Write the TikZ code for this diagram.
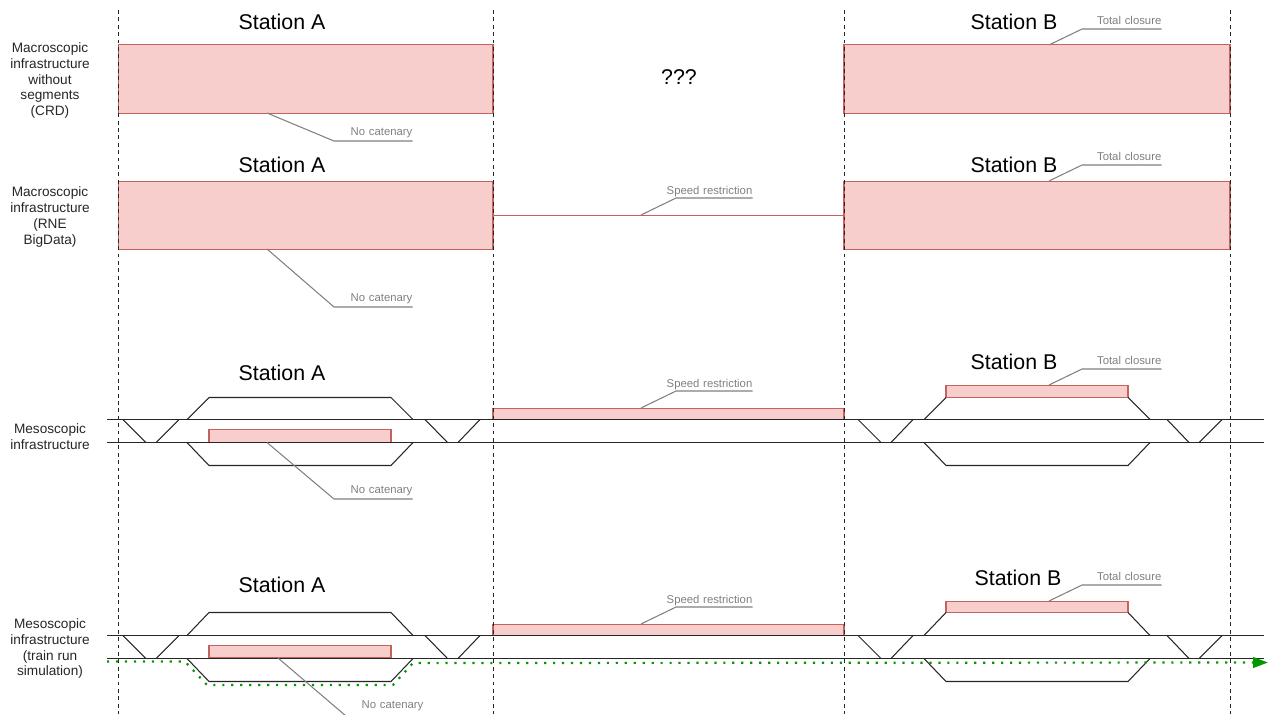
\documentclass[tikz,border=0pt]{standalone}
\usepackage{fontspec}
\setmainfont{Liberation Sans}
\usepackage{xcolor}
\definecolor{barfill}{HTML}{F8CECC}
\definecolor{bardraw}{HTML}{C4625E}
\definecolor{leadgray}{RGB}{128,128,128}
\definecolor{simgreen}{RGB}{0,153,0}
\usetikzlibrary{arrows.meta}
\tikzset{
  stationlabel/.style={font=\fontsize{12.15}{14}\selectfont, black, inner sep=0pt},
  rowlabel/.style={font=\fontsize{7.75}{9.07}\selectfont, black!85, align=center, inner sep=0pt},
  calloutlabel/.style={font=\fontsize{6.45}{7.5}\selectfont, leadgray, anchor=south west, align=right,
    text width=#1*0.02cm, inner sep=0pt, text depth=0.095cm},
  closurebar/.style={fill=barfill, draw=bardraw, line width=0.65pt},
  trackline/.style={draw=black!85, line width=0.6pt},
  leaderline/.style={draw=leadgray, line width=0.6pt},
  boundary/.style={draw=black!85, line width=0.5pt, dash pattern=on 2.2pt off 2pt},
  simroute/.style={draw=simgreen, line width=1.25pt, dash pattern=on 1.25pt off 3.85pt,
    -{Triangle[length=8.5pt, width=6pt, fill=simgreen]}}
}
\begin{document}
\begin{tikzpicture}[x=0.02cm, y=-0.02cm]
  \useasboundingbox (0,0) rectangle (1268,714);

  % Row 1
  \draw[closurebar] (118.5,44.5) rectangle (493,113.5);
  \draw[closurebar] (844,44.5) rectangle (1230,113.5);
  \node[rowlabel] (rowcrd) at (50,80.5) {Macroscopic\\infrastructure\\without\\segments\\(CRD)};
  \node[stationlabel] (stationA1) at (282,22) {Station A};
  \node[stationlabel] (stationB1) at (1014,22) {Station B};
  \node[stationlabel] (unknown) at (679,77) {???};
  \coordinate (tipA1) at (267,113);
  \node[calloutlabel=78] (catA1) at (334,141) {No catenary};
  \draw[leaderline] (tipA1) -- (catA1.south west) -- (catA1.south east);
  \coordinate (tipB1) at (1049,45);
  \node[calloutlabel=79, text depth=0.08cm] (closB1) at (1082,29) {Total closure};
  \draw[leaderline] (tipB1) -- (closB1.south west) -- (closB1.south east);

  % Row 2
  \draw[closurebar] (118.5,181.5) rectangle (493,249.5);
  \draw[closurebar] (844,181.5) rectangle (1230,249.5);
  \node[rowlabel] (rowrne) at (50,217) {Macroscopic\\infrastructure\\(RNE\\BigData)};
  \node[stationlabel] (stationA2) at (282,165) {Station A};
  \node[stationlabel] (stationB2) at (1014,165) {Station B};
  \coordinate (lineL2) at (493,215.5);
  \coordinate (lineR2) at (844,215.5);
  \draw[closurebar] (lineL2) -- (lineR2);
  \coordinate (tipA2) at (267,249);
  \node[calloutlabel=78] (catA2) at (334,307) {No catenary};
  \draw[leaderline] (tipA2) -- (catA2.south west) -- (catA2.south east);
  \coordinate (tipM2) at (641,215);
  \node[calloutlabel=76, text depth=0.06cm] (speedM2) at (676,198) {\llap{Speed restriction}};
  \draw[leaderline] (tipM2) -- (speedM2.south west) -- (speedM2.south east);
  \coordinate (tipB2) at (1049,181);
  \node[calloutlabel=79, text depth=0.08cm] (closB2) at (1082,165) {Total closure};
  \draw[leaderline] (tipB2) -- (closB2.south west) -- (closB2.south east);

  % Row 3
  \draw[closurebar] (209,429.5) rectangle (391,442.5);
  \draw[closurebar] (493,408.5) rectangle (844,419.5);
  \draw[closurebar] (946,385.5) rectangle (1128,397.5);
  \node[rowlabel] (rowmeso) at (50,437) {Mesoscopic\\infrastructure};
  \node[stationlabel] (stationA3) at (282,373) {Station A};
  \node[stationlabel] (stationB3) at (1014,362) {Station B};
  \draw[trackline] (107,419.5) -- (1264,419.5);
  \draw[trackline] (107,442.5) -- (1264,442.5);
  \draw[trackline] (187,419.5) -- (209,397.5) -- (391,397.5) -- (413,419.5);
  \draw[trackline] (187,442.5) -- (209,465.5) -- (391,465.5) -- (413,442.5);
  \draw[trackline] (924,419.5) -- (946,397.5) (1128,397.5) -- (1150,419.5);
  \draw[trackline] (924,442.5) -- (946,465.5) -- (1128,465.5) -- (1150,442.5);
  \draw[trackline] (123,419.5) -- (146,442.5) (156,442.5) -- (179,419.5);
  \draw[trackline] (425,419.5) -- (447.5,442.5) (458,442.5) -- (480,419.5);
  \draw[trackline] (858,419.5) -- (881,442.5) (891,442.5) -- (913,419.5);
  \draw[trackline] (1167,419.5) -- (1189,442.5) (1199,442.5) -- (1222,419.5);
  \coordinate (tipA3) at (267,442.5);
  \node[calloutlabel=78] (catA3) at (334,499) {No catenary};
  \draw[leaderline] (tipA3) -- (catA3.south west) -- (catA3.south east);
  \coordinate (tipM3) at (641,408);
  \node[calloutlabel=76, text depth=0.06cm] (speedM3) at (676,391) {\llap{Speed restriction}};
  \draw[leaderline] (tipM3) -- (speedM3.south west) -- (speedM3.south east);
  \coordinate (tipB3) at (1049,385);
  \node[calloutlabel=79, text depth=0.08cm] (closB3) at (1082,369) {Total closure};
  \draw[leaderline] (tipB3) -- (closB3.south west) -- (closB3.south east);

  % Row 4
  \draw[closurebar] (209,645.5) rectangle (391,658);
  \draw[closurebar] (493,624.5) rectangle (844,635.5);
  \draw[closurebar] (946,601.5) rectangle (1128,612.5);
  \node[rowlabel] (rowsim) at (50,648.5) {Mesoscopic\\infrastructure\\(train run\\simulation)};
  \node[stationlabel] (stationA4) at (282,585) {Station A};
  \node[stationlabel] (stationB4) at (1018,578) {Station B};
  \draw[trackline] (107,635.5) -- (1264,635.5);
  \draw[trackline] (107,658.5) -- (1264,658.5);
  \draw[trackline] (187,635.5) -- (209,612.5) -- (391,612.5) -- (413,635.5);
  \draw[trackline] (187,658.5) -- (209,681.5) -- (391,681.5) -- (413,658.5);
  \draw[trackline] (924,635.5) -- (946,612.5) (1128,612.5) -- (1150,635.5);
  \draw[trackline] (924,658.5) -- (946,681.5) -- (1128,681.5) -- (1150,658.5);
  \draw[trackline] (123,635.5) -- (146,658.5) (156,658.5) -- (179,635.5);
  \draw[trackline] (425,635.5) -- (447.5,658.5) (458,658.5) -- (480,635.5);
  \draw[trackline] (858,635.5) -- (881,658.5) (891,658.5) -- (913,635.5);
  \draw[trackline] (1167,635.5) -- (1189,658.5) (1199,658.5) -- (1222,635.5);
  \draw[simroute] (107,661.5) -- (185,661.5) -- (207,685) -- (393,685) -- (413,663) -- (1268,662.5);
  \coordinate (tipA4) at (278,658);
  \node[calloutlabel=77, text depth=0.14cm] (catA4) at (346,716) {No catenary};
  \draw[leaderline] (tipA4) -- (catA4.south west) -- (catA4.south east);
  \coordinate (tipM4) at (641,624);
  \node[calloutlabel=76, text depth=0.06cm] (speedM4) at (676,607) {\llap{Speed restriction}};
  \draw[leaderline] (tipM4) -- (speedM4.south west) -- (speedM4.south east);
  \coordinate (tipB4) at (1049,601);
  \node[calloutlabel=79, text depth=0.08cm] (closB4) at (1082,585) {Total closure};
  \draw[leaderline] (tipB4) -- (closB4.south west) -- (closB4.south east);

  % Section boundaries
  \draw[boundary] (118.5,10) -- (118.5,714);
  \draw[boundary] (493,10) -- (493,714);
  \draw[boundary] (844,10) -- (844,714);
  \draw[boundary] (1230,10) -- (1230,714);
\end{tikzpicture}
\end{document}
